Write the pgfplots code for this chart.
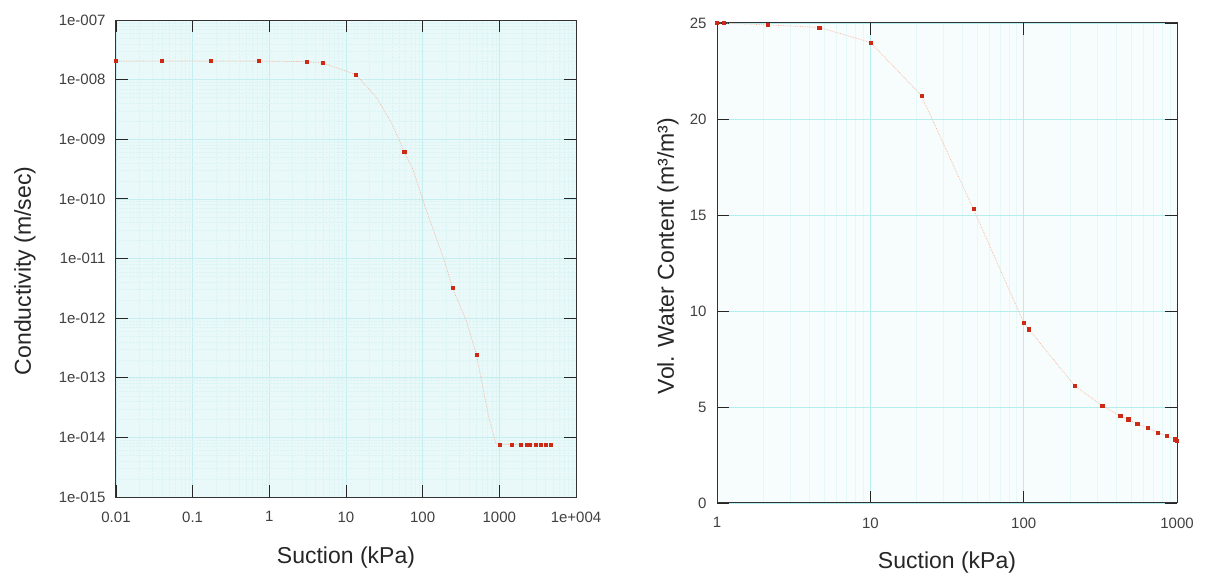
\documentclass[border=0pt]{standalone}
\usepackage{fontspec}
\setmainfont{Liberation Sans}
\usepackage{pgfplots}
\pgfplotsset{compat=1.18}
\definecolor{ptred}{HTML}{CC2A14}
\definecolor{curve}{HTML}{F7B49C}
\definecolor{bgL}{HTML}{E9F8F8}
\definecolor{gridL}{HTML}{C6EDEF}
\definecolor{bgR}{HTML}{F7FDFD}
\definecolor{gridR}{HTML}{B6EEEE}
\definecolor{txt}{HTML}{404040}
\pgfplotsset{
  common/.style={
    scale only axis,
    axis line style={black!80, line width=1pt},
    tick style={black!85, line width=0.9pt},
    major tick length=12pt, minor tick length=0pt,
    tick align=inside, tick pos=both,
    ticklabel style={font=\fontsize{15}{17}\selectfont, text=txt},
    xticklabel style={yshift=-11pt},
    yticklabel style={xshift=-7pt},
    label style={font=\fontsize{23}{27}\selectfont, text=black!85},
    /pgf/number format/assume math mode=true,
    clip=true,
  },
}
\begin{document}
\begin{tikzpicture}
\useasboundingbox (0,0) rectangle (1210pt,577pt);
% ---------- Left: conductivity ----------
\begin{axis}[common,
  at={(116pt,80pt)}, anchor=south west,
  width=460pt, height=477pt,
  xmode=log, ymode=log,
  xmin=0.01, xmax=10000, ymin=1e-15, ymax=1e-7,
  xtick={0.01,0.1,1,10,100,1000,10000},
  xticklabels={0.01,0.1,1,10,100,1000,1e+004},
  ytick={1e-15,1e-14,1e-13,1e-12,1e-11,1e-10,1e-9,1e-8,1e-7},
  yticklabels={1e-015,1e-014,1e-013,1e-012,1e-011,1e-010,1e-009,1e-008,1e-007},
  axis background/.style={fill=bgL},
  grid=both,
  major grid style={gridL, line width=0.6pt},
  minor grid style={gridL!60, line width=0.4pt, densely dotted},
  xlabel={Suction (kPa)},
  ylabel={Conductivity (m/sec)},
  x label style={at={(axis description cs:0.5,-0.126)}, anchor=center},
  y label style={at={(axis description cs:-0.198,0.474)}, anchor=center},
]
\addplot[curve, line width=0.7pt, densely dotted] coordinates {
 (0.01,2.05e-8) (0.039,2.05e-8) (0.17,2.05e-8) (0.72,2.05e-8) (3.1,2.0e-8)
 (5.0,1.9e-8) (13.5,1.21e-8) (25,5.0e-9) (40,1.8e-9) (57.5,6.2e-10)
 (74.6,3.13e-10) (109,7.0e-11) (190,9.6e-12) (245,3.2e-12) (372,9.0e-13)
 (503,2.45e-13) (632,5.4e-14) (736,2.07e-14) (900,7.9e-15) (1000,7.6e-15)
 (5000,7.6e-15)
};
\addplot[only marks, mark=square*, mark size=1.6pt, ptred] coordinates {
 (0.01,2.05e-8) (0.039,2.05e-8) (0.17,2.05e-8) (0.72,2.05e-8) (3.1,2.0e-8)
 (5.0,1.9e-8) (13.5,1.21e-8) (57.5,6.2e-10) (245,3.2e-12) (503,2.45e-13)
 (1000,7.6e-15) (1450,7.6e-15) (1900,7.6e-15) (2250,7.6e-15) (2500,7.6e-15)
 (3000,7.6e-15) (3500,7.6e-15) (4000,7.6e-15) (4700,7.6e-15)
};
\end{axis}
% ---------- Right: water content ----------
\begin{axis}[common,
  at={(717pt,74pt)}, anchor=south west,
  width=460pt, height=480pt,
  xmode=log,
  xmin=1, xmax=1000, ymin=0, ymax=25,
  xtick={1,10,100,1000},
  xticklabels={1,10,100,1000},
  ytick={0,5,10,15,20,25},
  axis background/.style={fill=bgR},
  xmajorgrids, xminorgrids, ymajorgrids,
  major grid style={gridR, line width=0.6pt},
  minor grid style={gridR!35, line width=0.4pt},
  xlabel={Suction (kPa)},
  ylabel={Vol. Water Content (m³/m³)},
  x label style={at={(axis description cs:0.5,-0.125)}, anchor=center},
  y label style={at={(axis description cs:-0.1065,0.5146)}, anchor=center},
]
\addplot[curve, line width=0.7pt, densely dotted] coordinates {
 (1,25.0) (1.1,25.0) (2.14,24.9) (4.64,24.77) (10,23.99) (21.5,21.23)
 (47,15.31) (100,9.4) (108,9.05) (216,6.09) (325,5.07) (426,4.53)
 (480,4.36) (550,4.13) (647,3.91) (752,3.68) (854,3.49) (972,3.32) (1000,3.23)
};
\addplot[only marks, mark=square*, mark size=1.6pt, ptred] coordinates {
 (1,25.0) (1.1,25.0) (2.14,24.9) (4.64,24.77) (10,23.99) (21.5,21.23)
 (47,15.31) (100,9.4) (108,9.05) (216,6.09) (325,5.07) (426,4.53)
 (480,4.36) (550,4.13) (647,3.91) (752,3.68) (854,3.49) (972,3.32) (1000,3.23)
};
\end{axis}
\end{tikzpicture}
\end{document}
